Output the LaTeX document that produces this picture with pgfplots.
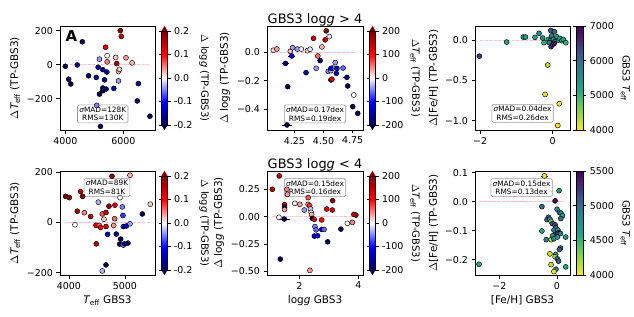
\documentclass[border=0pt]{standalone}
\usepackage{fontspec}
\setmainfont{DejaVu Sans}
\usepackage{pgfplots}
\pgfplotsset{compat=1.18}
\usepgfplotslibrary{colormaps}

\newcommand{\mytick}[1]{\pgfmathparse{#1}\ifdim\pgfmathresult pt<-0.00001pt\relax −\pgfmathparse{abs(#1)}\fi\pgfmathprintnumber[assume math mode=true]{\pgfmathresult}}
\newcommand{\Teff}{{\itshape T}\textsubscript{eff}}
\newcommand{\lgg}{log{\itshape g}}

\definecolor{pinkline}{rgb}{1,0.75,0.8}
\definecolor{sdkred}{rgb}{0.5,0,0}
\definecolor{sdkblue}{rgb}{0,0,0.3}

\tikzset{sbox/.style={draw=black!40, fill=white, fill opacity=0.8, text opacity=1, rounded corners=1.5bp,
    inner sep=1.8bp, line width=0.6bp, font=\fontsize{7.4}{8.8}\selectfont, align=center}}

\pgfplotsset{
  colormap={seismic}{rgb=(0,0,0.3) rgb=(0,0,1) rgb=(1,1,1) rgb=(1,0,0) rgb=(0.5,0,0)},
  colormap={viridisr}{rgb=(0.993,0.906,0.144) rgb=(0.678,0.864,0.190) rgb=(0.369,0.789,0.383) rgb=(0.135,0.659,0.518) rgb=(0.128,0.567,0.551) rgb=(0.164,0.471,0.558) rgb=(0.229,0.322,0.546) rgb=(0.283,0.141,0.458) rgb=(0.267,0.005,0.329)},
  xticklabel={\mytick{\tick}},
  yticklabel={\mytick{\tick}},
  /pgf/number format/1000 sep={},
  /pgf/number format/assume math mode=true,
  panel/.style={
    scale only axis, width=95bp, height=104bp,
    tick align=outside, tick pos=left, major tick length=3.5bp,
    axis line style={line width=0.6pt},
    every tick/.style={black, line width=0.6pt},
    tick label style={font=\fontsize{9.5}{10}\selectfont},
    label style={font=\fontsize{10.5}{11}\selectfont},
    title style={font=\fontsize{13}{14}\selectfont, yshift=-10bp},
    scaled ticks=false,
    clip=false,
  },
  pts/.style={scatter, only marks, mark=*, mark size=2.5bp, point meta=explicit,
    scatter/use mapped color={draw=black, fill=mapped color},
    mark options={line width=0.45bp},
    error bars/.cd, x dir=both, x explicit, error mark=none,
    error bar style={black, line width=0.7bp}},
  zl/.style={pinkline, dashed, dash pattern=on 3bp off 1.5bp, line width=0.8bp, forget plot},
  seiscb/.style={
    colorbar right,
    colorbar/width=6bp,
    colorbar shift/.style={xshift=6.5bp, yshift=-5bp},
    colorbar style={
      at={(parent axis.north east)}, anchor=north west,
      scale only axis, width=6bp, height=94bp,
      tick align=outside, major tick length=3bp,
      every tick/.style={black, line width=0.6pt},
      axis line style={line width=0.5pt},
      ytick={#1},
      yticklabel style={font=\fontsize{9.5}{10}\selectfont},
      ylabel style={font=\fontsize{10}{11}\selectfont, rotate=180, anchor=south},
      clip=false,
      after end axis/.code={
        \fill[sdkred] (rel axis cs:0,1) -- (rel axis cs:1,1) -- (rel axis cs:0.5,1.055) -- cycle;
        \fill[sdkblue] (rel axis cs:0,0) -- (rel axis cs:1,0) -- (rel axis cs:0.5,-0.055) -- cycle;
      },
    },
  },
  vircb/.style={
    colorbar right,
    colorbar/width=7.3bp,
    colorbar shift/.style={xshift=6bp},
    colorbar style={
      at={(parent axis.north east)}, anchor=north west,
      scale only axis, width=7.3bp, height=104bp,
      tick align=outside, major tick length=3bp,
      every tick/.style={black, line width=0.6pt},
      axis line style={line width=0.5pt},
      ytick={#1},
      yticklabel style={font=\fontsize{9.5}{10}\selectfont},
      ylabel style={font=\fontsize{10}{11}\selectfont, rotate=180, anchor=south},
    },
  },
}

\begin{document}
\begin{tikzpicture}
\useasboundingbox (0bp,0bp) rectangle (634bp,-317bp);

% ---------------- Panel 1
\begin{axis}[panel, at={(60bp,-26bp)}, anchor=north west,
  xmin=3815, xmax=7090, ymin=-385, ymax=227,
  xtick={4000,6000}, ytick={-200,0,200},
  ylabel={$\Delta$\Teff{} (TP-GBS3)},
  colormap name=seismic, point meta min=-0.2, point meta max=0.2,
  seiscb={-0.2,-0.1,0,0.1,0.2},
  colorbar style={ylabel={$\Delta$ \lgg{} (TP-GBS3)},
    yticklabel style={/pgf/number format/.cd, fixed, fixed zerofill, precision=1}},
]
\addplot[zl] coordinates {(3990,0) (6930,0)};
\addplot[pts] table[x=x,y=y,meta=c,x error=e] {
x y c e
4000 -10 -0.2 0
4410 -2 -0.17 40
4115 -86 -0.19 0
4185 -114 -0.2 0
4585 134 -0.2 0
4800 -66 -0.18 0
5065 -76 -0.15 0
5130 -16 -0.15 0
5175 32 -0.04 0
5175 -174 -0.2 0
5290 -30 -0.15 0
5350 -90 -0.17 0
5290 -138 -0.2 0
5290 -154 -0.2 0
5405 -144 -0.18 0
5385 102 0.12 0
5430 -44 -0.15 0
5440 52 0.0 0
5440 16 0.05 0
5210 -364 -0.2 0
5080 -240 -0.05 0
5735 42 0.02 0
5770 6 0.16 60
5895 200 0.18 0
5930 166 0.15 0
5830 -40 0.03 0
5865 -28 0.02 0
5830 -96 -0.04 0
5670 -140 -0.15 0
6090 40 0.04 0
6300 10 0.03 0
6480 -214 -0.2 80
6515 -112 -0.17 0
6915 -304 -0.2 0
};
\node[sbox] at (rel axis cs:0.45,0.155) {{\itshape σ}MAD=128K\\RMS=130K};
\node[font=\fontsize{15}{15}\selectfont\bfseries] at (rel axis cs:0.12,0.905) {A};
\end{axis}

% ---------------- Panel 2
\begin{axis}[panel, at={(267bp,-26bp)}, anchor=north west, width=96bp,
  xmin=4.016, xmax=4.838, ymin=-0.544, ymax=0.181,
  xtick={4.25,4.5,4.75}, ytick={-0.4,-0.2,0},
  xticklabel style={/pgf/number format/.cd, fixed, fixed zerofill, precision=2},
  yticklabel style={/pgf/number format/.cd, fixed, fixed zerofill, precision=1},
  ylabel={$\Delta$ \lgg{} (TP-GBS3)},
  title={GBS3 \lgg{} > 4},
  colormap name=seismic, point meta min=-200, point meta max=200,
  seiscb={-200,-100,0,100,200},
  colorbar style={ylabel={$\Delta$\Teff{} (TP-GBS3)}},
]
\addplot[zl] coordinates {(4.04,0) (4.79,0)};
\addplot[pts] table[x=x,y=y,meta=c,x error=e] {
x y c e
4.07 0.012 20 0
4.10 0.021 40 0
4.215 0.005 30 0
4.235 0.03 -40 0
4.228 -0.028 -120 0.03
4.175 -0.08 -180 0.03
4.275 0.02 -40 0
4.31 0.02 10 0
4.35 -0.144 -150 0
4.414 0.095 140 0
4.362 0.009 20 0
4.385 0.019 -10 0
4.437 -0.114 -40 0
4.451 -0.028 60 0
4.471 -0.06 -170 0.025
4.486 0.035 30 0
4.514 0.084 150 0
4.523 0.147 200 0
4.549 0.107 -10 0.025
4.193 -0.242 -200 0
4.187 -0.509 -200 0.04
4.54 -0.135 -50 0
4.563 -0.13 -30 0
4.58 -0.112 -30 0
4.60 -0.074 -40 0
4.615 -0.114 -130 0
4.563 -0.114 -120 0
4.61 -0.149 -110 0
4.563 -0.195 -200 0
4.572 -0.19 120 0
4.667 -0.112 -60 0
4.70 -0.177 -170 0.03
4.707 -0.237 -200 0
4.759 -0.3 0 0
4.75 -0.381 -200 0
4.793 -0.428 -200 0
};
\node[sbox] at (rel axis cs:0.5,0.155) {{\itshape σ}MAD=0.17dex\\RMS=0.19dex};
\end{axis}

% ---------------- Panel 3
\begin{axis}[panel, at={(475bp,-26bp)}, anchor=north west,
  xmin=-2.14, xmax=0.476, ymin=-1.116, ymax=0.174,
  xtick={-2,0}, ytick={-1,-0.5,0},
  yticklabel style={/pgf/number format/.cd, fixed, fixed zerofill, precision=1},
  ylabel={$\Delta$[Fe/H] (TP-GBS3)},
  colormap name=viridisr, point meta min=4000, point meta max=7000,
  vircb={4000,5000,6000,7000},
  colorbar style={ylabel={GBS3 \Teff}},
]
\addplot[zl] coordinates {(-2.0,0) (0.38,0)};
\addplot[pts] table[x=x,y=y,meta=c,x error=e] {
x y c e
-2.02 -0.2 6500 0
-1.27 -0.025 5200 0
-0.81 0.037 5400 0
-0.75 0.037 5300 0
-0.49 0.033 5200 0
-0.376 0.083 5600 0
-0.275 0.025 5500 0
-0.24 -0.033 5000 0
-0.138 -0.31 4300 0
-0.21 -0.675 4100 0
0.18 -0.79 4000 0
0.14 -1.06 4000 0
-0.12 0.008 5000 0
-0.07 -0.008 5500 0
-0.03 0.05 5800 0
0.02 0.008 5400 0
0.06 -0.02 5900 0
0.11 0.04 5200 0
0.16 0.0 5300 0
0.2 0.02 5100 0
0.25 -0.008 5300 0
0.29 0.008 5200 0
0.36 -0.033 5000 0
-0.09 -0.033 5700 0
-0.055 0.117 6200 0
0.046 0.104 6000 0
-0.046 -0.083 6600 0
0.0 -0.054 6400 0
0.04 -0.042 6800 0
};
\node[sbox] at (rel axis cs:0.5,0.16) {{\itshape σ}MAD=0.04dex\\RMS=0.26dex};
\end{axis}

% ---------------- Panel 4
\begin{axis}[panel, at={(60bp,-171bp)}, anchor=north west,
  xmin=3840, xmax=5536, ymin=-209, ymax=205,
  xtick={4000,5000}, ytick={-200,0,200},
  xlabel={\Teff{} GBS3},
  ylabel={$\Delta$\Teff{} (TP-GBS3)},
  colormap name=seismic, point meta min=-0.2, point meta max=0.2,
  seiscb={-0.2,-0.1,0,0.1,0.2},
  colorbar style={ylabel={$\Delta$ \lgg{} (TP-GBS3)},
    yticklabel style={/pgf/number format/.cd, fixed, fixed zerofill, precision=1}},
]
\addplot[zl] coordinates {(3940,0) (5450,0)};
\addplot[pts] table[x=x,y=y,meta=c,x error=e] {
x y c e
3940 104 0.2 0
4006 99 0.2 0
4208 123 0.15 40
4244 104 0.18 0
4149 45 0.18 0
4107 -9 0 0
4274 39 0.05 0
4387 24 0.15 0
4488 -85 0.15 0
4524 81 -0.03 40
4595 34 0.07 40
4661 40 0.13 0
4625 13 0.02 0
4482 -11 0.12 0
4542 -12 0.05 0
4565 -20 0.1 40
4661 -16 0.14 0
4690 -47 -0.15 40
4714 65 0.18 60
4768 184 0.18 40
4798 -12 0.04 50
4815 15 0.06 0
4821 69 0.12 0
4845 -46 -0.17 0
4923 -66 -0.2 0
4911 99 0 40
4661 -169 -0.2 0
4595 -193 -0.03 40
4905 -86 -0.2 0
4970 -90 -0.05 0
4994 -85 -0.15 0
5054 -82 -0.2 0
4952 62 -0.05 0
4964 28 -0.08 0
4970 -16 -0.13 0
5024 -14 -0.13 0
5089 -5 -0.04 40
5089 188 0.03 40
5310 34 -0.2 0
5452 73 0.02 0
};
\node[sbox] at (rel axis cs:0.495,0.84) {{\itshape σ}MAD=89K\\RMS=81K};
\end{axis}

% ---------------- Panel 5
\begin{axis}[panel, at={(267bp,-171bp)}, anchor=north west, width=96bp,
  xmin=0.905, xmax=4.16, ymin=-0.532, ymax=0.417,
  xtick={2,4}, ytick={-0.5,-0.25,0,0.25},
  yticklabel style={/pgf/number format/.cd, fixed, fixed zerofill, precision=2},
  xlabel={\lgg{} GBS3},
  ylabel={$\Delta$ \lgg{} (TP-GBS3)},
  title={GBS3 \lgg{} < 4},
  colormap name=seismic, point meta min=-200, point meta max=200,
  seiscb={-200,-100,0,100,200},
  colorbar style={ylabel={$\Delta$\Teff{} (TP-GBS3)}},
]
\addplot[zl] coordinates {(1.08,0) (3.95,0)};
\addplot[pts] table[x=x,y=y,meta=c,x error=e] {
x y c e
1.085 0.25 140 0
1.32 0.372 150 0
1.31 -0.006 0 0
1.356 -0.387 -200 0
1.49 -0.021 -200 0.2
1.5 0.11 130 0
1.5 0.085 -190 0
1.5 0.065 40 0
1.58 0.25 50 0
1.6 0.204 40 0
1.85 0.122 10 0
2.02 0.113 40 0
2.17 0.061 -40 0
2.3 0.113 50 0
2.3 0.174 70 0
2.35 0.1 80 0
2.38 0.07 -20 0
2.4 0.04 10 0
2.42 0.02 30 0
2.44 -0.015 -200 0
2.51 -0.024 120 0
2.53 -0.09 -50 0
2.57 -0.12 -60 0
2.51 -0.177 -120 0
2.62 -0.174 -110 0
2.76 -0.116 -130 0
2.84 -0.116 -60 0
2.76 -0.03 100 0
2.93 0.07 120 0
3.13 0.146 180 0
3.12 0.061 130 0
2.96 -0.229 -200 0
3.41 -0.113 -200 0
3.63 -0.061 0 0
3.8 -0.052 50 0
3.85 0.021 130 0
3.92 0.015 170 0
2.36 -0.49 40 0
};
\node[sbox] at (rel axis cs:0.5,0.84) {{\itshape σ}MAD=0.15dex\\RMS=0.16dex};
\end{axis}

% ---------------- Panel 6
\begin{axis}[panel, at={(475bp,-171bp)}, anchor=north west,
  xmin=-2.85, xmax=0.46, ymin=-0.253, ymax=0.106,
  xtick={-2,0}, ytick={-0.2,-0.1,0,0.1},
  yticklabel style={/pgf/number format/.cd, fixed, fixed zerofill, precision=1},
  xlabel={[Fe/H] GBS3},
  ylabel={$\Delta$[Fe/H] (TP-GBS3)},
  colormap name=viridisr, point meta min=4000, point meta max=5500,
  vircb={4000,4500,5000,5500},
  colorbar style={ylabel={GBS3 \Teff}},
]
\addplot[zl] coordinates {(-2.71,0) (0.31,0)};
\addplot[pts] table[x=x,y=y,meta=c,x error=e] {
x y c e
-0.43 0.089 4000 0.12
0.08 0.038 4700 0
-0.06 0.003 5500 0
-0.52 -0.017 5000 0
0.01 -0.026 4800 0
0.09 -0.037 4900 0
0.15 -0.04 4700 0
0.2 -0.048 4600 0
0.14 -0.058 5000 0
-0.29 -0.054 5000 0
-0.34 -0.062 5100 0
-0.24 -0.06 4800 0
-0.2 -0.068 4300 0
-0.15 -0.076 5100 0
-0.06 -0.08 5200 0
-0.04 -0.09 5000 0
-0.1 -0.098 4900 0
0.04 -0.098 4700 0
0.07 -0.107 5100 0
-0.06 -0.115 4800 0
-0.15 -0.118 4700 0
0.02 -0.11 5300 0
0.13 -0.11 4900 0
-0.52 -0.101 4600 0
-0.37 -0.131 4900 0
-0.2 -0.131 4200 0
-0.1 -0.128 4800 0
0.02 -0.122 4700 0
0.31 -0.122 4700 0
0.13 -0.16 5000 0
0.09 -0.165 5100 0
-0.24 -0.18 4100 0
-0.04 -0.182 4600 0
-0.06 -0.19 4200 0
0.02 -0.197 5000 0
0.06 -0.205 5100 0
-0.2 -0.217 4100 0
-0.03 -0.233 4800 0
-0.1 -0.241 4000 0
0.31 -0.225 4600 0
-2.71 -0.216 4600 0
};
\node[sbox] at (rel axis cs:0.49,0.84) {{\itshape σ}MAD=0.15dex\\RMS=0.13dex};
\end{axis}
\end{tikzpicture}
\end{document}
